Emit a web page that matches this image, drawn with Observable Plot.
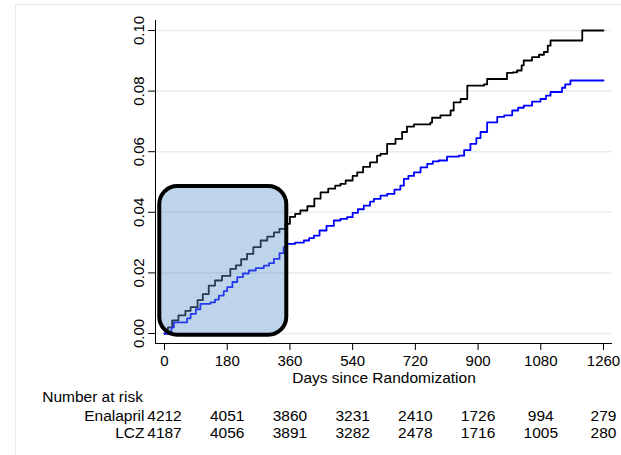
<!DOCTYPE html>
<html>
<head>
<meta charset="utf-8">
<script src="https://cdn.jsdelivr.net/npm/d3@7"></script>
<script src="https://cdn.jsdelivr.net/npm/@observablehq/plot@0.6"></script>
<style>
  html, body { margin: 0; padding: 0; background: #fff; }
  #chart { position: relative; width: 621px; height: 455px; overflow: hidden; }
  #chart .region { position: absolute; left: 15px; top: 4px; right: -2px; bottom: -2px; border: 1px solid #e4ebef; }
  #chart svg { position: absolute; left: 0; top: 0; }
</style>
</head>
<body>
<div id="chart"><div class="region"></div></div>
<script>
// Kaplan–Meier style cumulative incidence, step points (day, cumulative proportion)
const enalaprilDays = [0, 10, 22, 40, 60, 75, 95, 110, 127, 145, 165, 189, 205, 220, 237, 255, 276, 295, 314, 330, 347, 360, 375, 390, 410, 430, 448, 470, 490, 505, 520, 540, 553, 570, 590, 610, 620, 639, 663, 682, 696, 716, 763, 768, 792, 821, 830, 850, 869, 917, 926, 974, 983, 1000, 1012, 1025, 1031, 1055, 1075, 1089, 1100, 1108, 1199, 1260];
const enalaprilRisk = [0, 0.002, 0.0043, 0.006, 0.0075, 0.0087, 0.011, 0.013, 0.0158, 0.0175, 0.019, 0.0213, 0.0225, 0.0245, 0.0263, 0.0285, 0.0307, 0.032, 0.0334, 0.0345, 0.0362, 0.0385, 0.0395, 0.0406, 0.042, 0.0445, 0.0466, 0.0478, 0.0488, 0.0494, 0.0505, 0.052, 0.0532, 0.055, 0.0565, 0.0587, 0.0593, 0.0626, 0.0642, 0.0665, 0.0683, 0.069, 0.0696, 0.0712, 0.072, 0.0736, 0.0763, 0.0774, 0.0818, 0.0822, 0.084, 0.084, 0.086, 0.0862, 0.0868, 0.0885, 0.0901, 0.0912, 0.092, 0.0929, 0.095, 0.0967, 0.1, 0.1];

const lczDays = [0, 12, 20, 27, 55, 65, 75, 90, 103, 132, 145, 156, 170, 180, 195, 209, 225, 242, 262, 285, 300, 314, 330, 342, 352, 375, 400, 415, 429, 445, 465, 486, 505, 524, 540, 555, 572, 590, 601, 620, 639, 660, 677, 687, 700, 716, 735, 754, 770, 787, 811, 845, 860, 878, 895, 907, 926, 955, 975, 998, 1015, 1031, 1055, 1079, 1095, 1108, 1141, 1150, 1165, 1260];
const lczRisk = [0, 0.0005, 0.002, 0.0037, 0.0037, 0.005, 0.0065, 0.008, 0.0098, 0.0103, 0.0112, 0.0125, 0.014, 0.0153, 0.017, 0.0186, 0.0198, 0.0208, 0.0216, 0.0224, 0.0232, 0.0246, 0.0265, 0.0285, 0.0296, 0.03, 0.0307, 0.0315, 0.0323, 0.034, 0.0355, 0.0373, 0.0378, 0.0384, 0.0398, 0.041, 0.0422, 0.0435, 0.0444, 0.0455, 0.0461, 0.0475, 0.0488, 0.051, 0.052, 0.0532, 0.0548, 0.056, 0.0568, 0.0571, 0.0584, 0.0587, 0.0605, 0.0626, 0.0645, 0.0665, 0.0697, 0.0715, 0.072, 0.0736, 0.0745, 0.0752, 0.0765, 0.0774, 0.0785, 0.0797, 0.0811, 0.0822, 0.0835, 0.0835];

// Axis ticks
const xTicks = [0, 180, 360, 540, 720, 900, 1080, 1260];
const yTicks = [0, 0.02, 0.04, 0.06, 0.08, 0.10];

// Number at risk table
const riskDays = [0, 180, 360, 540, 720, 900, 1080, 1260];
const enalaprilAtRisk = [4212, 4051, 3860, 3231, 2410, 1726, 994, 279];
const lczAtRisk = [4187, 4056, 3891, 3282, 2478, 1716, 1005, 280];

// Highlighted early-follow-up window (days, proportion)
const windowDays = [-13.5, 351];
const windowRisk = [-0.00056, 0.0485];

const toRows = (days, vals) => days.map((d, i) => ({day: d, value: vals[i]}));
const enalapril = toRows(enalaprilDays, enalaprilRisk);
const lcz = toRows(lczDays, lczRisk);
const enalaprilTable = toRows(riskDays, enalaprilAtRisk);
const lczTable = toRows(riskDays, lczAtRisk);

const xDomain = [-25.8, 1285.8];
const yDomain = [-0.0033, 0.1033];
const font = "'Liberation Sans', Arial, Helvetica, sans-serif";

const chart = Plot.plot({
  width: 621,
  height: 455,
  marginLeft: 155,
  marginRight: 9,
  marginTop: 20,
  marginBottom: 112,
  style: {fontFamily: font, fontSize: "15px", background: "transparent", color: "#000", overflow: "visible"},
  x: {domain: xDomain, axis: null, label: null},
  y: {domain: yDomain, axis: null, label: null},
  marks: [
    Plot.ruleY(yTicks, {stroke: "#e4edf1", strokeWidth: 1.5}),
    Plot.line(enalapril, {x: "day", y: "value", curve: "step-after", stroke: "#000", strokeWidth: 1.8}),
    Plot.line(lcz, {x: "day", y: "value", curve: "step-after", stroke: "#0000ff", strokeWidth: 1.8}),
    Plot.rect([{}], {
      x1: () => windowDays[0], x2: () => windowDays[1],
      y1: () => windowRisk[0], y2: () => windowRisk[1],
      rx: 18, ry: 18,
      fill: "rgb(92,147,202)", fillOpacity: 0.4,
      stroke: "#000", strokeWidth: 4
    }),
    Plot.ruleX([xDomain[0]], {stroke: "#000", strokeWidth: 1}),
    Plot.ruleY([yDomain[0]], {stroke: "#000", strokeWidth: 1}),
    Plot.axisX({ticks: xTicks, tickSize: 7, tickPadding: 5, fontSize: 15, label: null, tickFormat: d => String(d)}),
    Plot.axisY({ticks: yTicks, tickSize: 7, label: null, tickFormat: () => ""}),
    Plot.text(yTicks, {
      y: d => d, text: d => d3.format(".2f")(d),
      frameAnchor: "left", dx: -11.7, rotate: -90,
      textAnchor: "middle", lineAnchor: "bottom", fontSize: 15
    }),
    Plot.text(["Days since Randomization"], {
      x: () => 630, frameAnchor: "bottom", lineAnchor: "top", dy: 28.8, fontSize: 15.5
    }),
    Plot.text(["Number at risk"], {
      x: () => 0, frameAnchor: "bottom", lineAnchor: "top", textAnchor: "start", dx: -122.3, dy: 47.4, fontSize: 15.5
    }),
    Plot.text(["Enalapril"], {
      x: () => 0, frameAnchor: "bottom", lineAnchor: "top", textAnchor: "end", dx: -20, dy: 66.4, fontSize: 15.5
    }),
    Plot.text(["LCZ"], {
      x: () => 0, frameAnchor: "bottom", lineAnchor: "top", textAnchor: "end", dx: -20, dy: 83, fontSize: 15.5
    }),
    Plot.text(enalaprilTable, {
      x: "day", text: d => String(d.value), frameAnchor: "bottom", lineAnchor: "top", dy: 66.4, fontSize: 15.5
    }),
    Plot.text(lczTable, {
      x: "day", text: d => String(d.value), frameAnchor: "bottom", lineAnchor: "top", dy: 83, fontSize: 15.5
    })
  ]
});

document.getElementById("chart").appendChild(chart);
</script>
</body>
</html>
